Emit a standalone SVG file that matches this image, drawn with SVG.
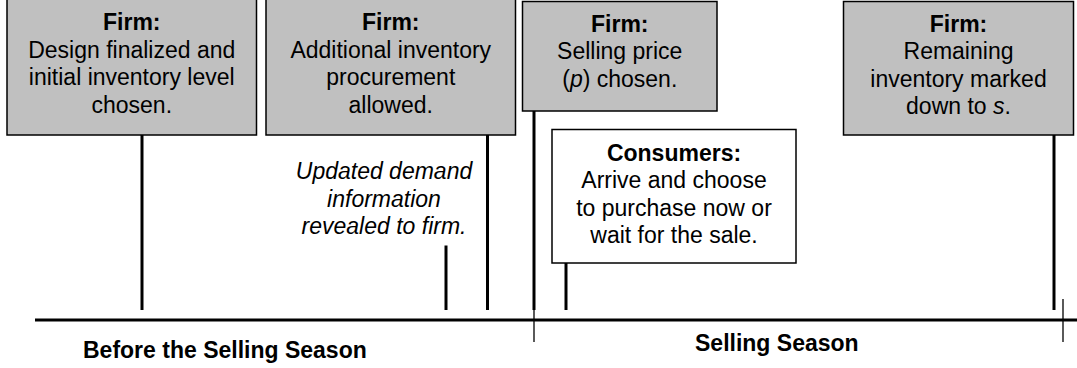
<svg xmlns="http://www.w3.org/2000/svg" width="1077" height="368" viewBox="0 0 1077 368">
<style>
.box{fill:#c0c0c0;stroke:#000;stroke-width:1.5}
.wbox{fill:#fff;stroke:#000;stroke-width:1.5}
text{font-family:"Liberation Sans",Arial,sans-serif;font-size:23px;fill:#000;text-anchor:middle}
.b{font-weight:bold}
.i{font-style:italic}
.thick{stroke:#000;stroke-width:3;fill:none}
.thin{stroke:#000;stroke-width:1.3;fill:none}
</style>
<rect width="1077" height="368" fill="#fff"/>
<g id="connectors">
<line class="thick" x1="142" y1="135" x2="142" y2="310"/>
<line class="thick" x1="446" y1="245.5" x2="446" y2="310"/>
<line class="thick" x1="487.5" y1="135" x2="487.5" y2="310"/>
<line class="thick" x1="534" y1="111" x2="534" y2="310"/>
<line class="thick" x1="566" y1="263" x2="566" y2="310"/>
<line class="thick" x1="1054" y1="135" x2="1054" y2="310"/>
<line class="thick" x1="35" y1="320" x2="1077" y2="320"/>
<line class="thin" x1="534" y1="310" x2="534" y2="342"/>
<line class="thin" x1="1063" y1="299" x2="1063" y2="342"/>
</g>
<g id="node-design">
<rect class="box" x="7" y="-5" width="249.5" height="140"/>
<text x="131.75" y="30" class="b">Firm:</text>
<text x="131.75" y="57.5">Design finalized and</text>
<text x="131.75" y="85">initial inventory level</text>
<text x="131.75" y="112.5">chosen.</text>
</g>
<g id="node-procurement">
<rect class="box" x="266" y="-5" width="249.5" height="140"/>
<text x="390.75" y="30" class="b">Firm:</text>
<text x="390.75" y="57.5">Additional inventory</text>
<text x="390.75" y="85">procurement</text>
<text x="390.75" y="112.5">allowed.</text>
</g>
<g id="node-demand-info">
<text x="384" y="179" class="i">Updated demand</text>
<text x="384" y="206.5" class="i">information</text>
<text x="384" y="234" class="i">revealed to firm.</text>
</g>
<g id="node-price">
<rect class="box" x="522.5" y="1.5" width="194.5" height="109.5"/>
<text x="619.75" y="31.5" class="b">Firm:</text>
<text x="619.75" y="59">Selling price</text>
<text x="619.75" y="86.5">(<tspan class="i">p</tspan>) chosen.</text>
</g>
<g id="node-consumers">
<rect class="wbox" x="552" y="129.5" width="244" height="133.5"/>
<text x="674" y="160.5" class="b">Consumers:</text>
<text x="674" y="188">Arrive and choose</text>
<text x="674" y="215.5">to purchase now or</text>
<text x="674" y="243">wait for the sale.</text>
</g>
<g id="node-markdown">
<rect class="box" x="843.5" y="1.5" width="230" height="133.5"/>
<text x="958.5" y="31.5" class="b">Firm:</text>
<text x="958.5" y="59">Remaining</text>
<text x="958.5" y="86.5">inventory marked</text>
<text x="958.5" y="114">down to <tspan class="i">s</tspan>.</text>
</g>
<g id="labels">
<text x="83" y="357.5" class="b" style="text-anchor:start">Before the Selling Season</text>
<text x="695" y="351" class="b" style="text-anchor:start">Selling Season</text>
</g>
</svg>
